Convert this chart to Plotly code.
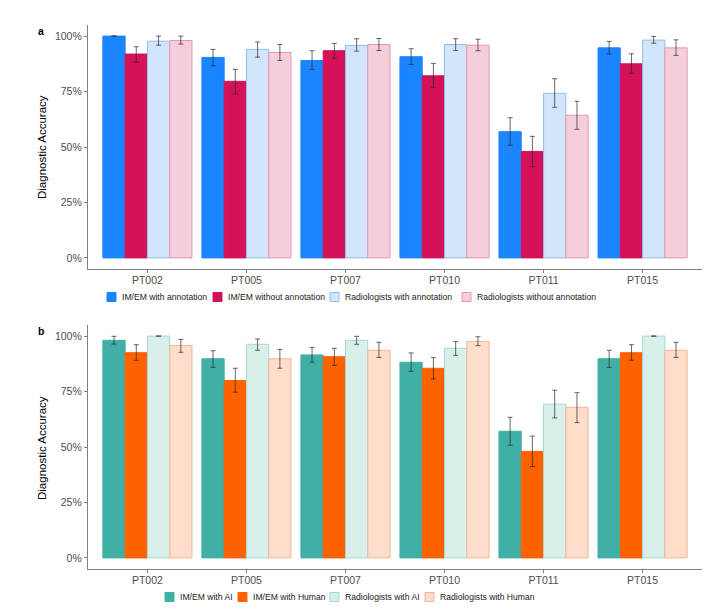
import plotly.graph_objects as go
from plotly.subplots import make_subplots

categories = ["PT002", "PT005", "PT007", "PT010", "PT011", "PT015"]

# Panel a
a_names = ["IM/EM with annotation", "IM/EM without annotation",
           "Radiologists with annotation", "Radiologists without annotation"]
a_values = [
    [1.000, 0.904, 0.890, 0.907, 0.569, 0.947],
    [0.919, 0.796, 0.934, 0.821, 0.480, 0.875],
    [0.977, 0.940, 0.958, 0.962, 0.742, 0.982],
    [0.980, 0.926, 0.962, 0.959, 0.643, 0.947],
]
a_upper = [
    [1.000, 0.940, 0.934, 0.943, 0.632, 0.976],
    [0.952, 0.850, 0.967, 0.877, 0.548, 0.920],
    [1.000, 0.973, 0.988, 0.988, 0.808, 0.998],
    [1.000, 0.962, 0.989, 0.986, 0.706, 0.983],
]
a_lower = [
    [1.000, 0.866, 0.850, 0.872, 0.508, 0.919],
    [0.882, 0.739, 0.900, 0.769, 0.411, 0.832],
    [0.959, 0.905, 0.932, 0.935, 0.679, 0.968],
    [0.964, 0.890, 0.935, 0.934, 0.580, 0.913],
]
a_fill = ["#1A85FF", "#D41159", "#D1E5FB", "#F5CEDC"]
a_line = ["#1A85FF", "#D41159", "#93BDEC", "#E795B4"]

# Panel b
b_names = ["IM/EM with AI", "IM/EM with Human", "Radiologists with AI", "Radiologists with Human"]
b_values = [
    [0.981, 0.898, 0.915, 0.882, 0.571, 0.898],
    [0.925, 0.800, 0.907, 0.855, 0.480, 0.925],
    [1.000, 0.963, 0.981, 0.945, 0.693, 1.000],
    [0.958, 0.898, 0.936, 0.976, 0.679, 0.936],
]
b_upper = [
    [0.999, 0.934, 0.949, 0.924, 0.634, 0.936],
    [0.961, 0.855, 0.945, 0.903, 0.549, 0.961],
    [1.000, 0.987, 0.999, 0.975, 0.756, 1.000],
    [0.985, 0.940, 0.972, 0.997, 0.745, 0.972],
]
b_lower = [
    [0.964, 0.859, 0.882, 0.841, 0.508, 0.859],
    [0.891, 0.747, 0.868, 0.807, 0.412, 0.891],
    [1.000, 0.936, 0.963, 0.913, 0.631, 1.000],
    [0.927, 0.855, 0.904, 0.957, 0.610, 0.904],
]
b_fill = ["#40B0A6", "#FE6100", "#D9EFEC", "#FEDDCB"]
b_line = ["#40B0A6", "#FE6100", "#A3D9D0", "#F4B596"]

y_ticks = [0, 0.25, 0.5, 0.75, 1.0]
y_ticklabels = ["0%", "25%", "50%", "75%", "100%"]

W, H = 718, 612
ML, MR = 88, 16
PW = W - ML - MR

def px_x(px):
    return (px - ML) / PW

def px_y(px):
    return 1 - px / H

fig = make_subplots(rows=2, cols=1)

def add_panel(names, values, upper, lower, fills, lines, row):
    for i, n in enumerate(names):
        fig.add_trace(go.Bar(
            x=categories, y=values[i], name=n, showlegend=False,
            marker=dict(color=fills[i], line=dict(color=lines[i], width=1)),
            error_y=dict(type="data", symmetric=False,
                         array=[u - v for u, v in zip(upper[i], values[i])],
                         arrayminus=[v - l for v, l in zip(values[i], lower[i])],
                         color="rgba(40,40,40,0.7)", thickness=1, width=2.5),
        ), row=row, col=1)

add_panel(a_names, a_values, a_upper, a_lower, a_fill, a_line, 1)
add_panel(b_names, b_values, b_upper, b_lower, b_fill, b_line, 2)

axis_common = dict(showline=True, linecolor="#808080", linewidth=1.2,
                   ticks="outside", ticklen=3, tickcolor="#808080",
                   tickfont=dict(size=10.5, color="#4D4D4D"), showgrid=False,
                   zeroline=False, automargin=False)

annotations = []
shapes = []

# panel labels and y titles
for lab, ylab, ymid in [("a", 31, 147), ("b", 331, 448)]:
    annotations.append(dict(text="<b>%s</b>" % lab, x=px_x(41), y=px_y(ylab), xref="paper",
                            yref="paper", xanchor="center", yanchor="middle", showarrow=False,
                            font=dict(size=10.5, color="black")))
    annotations.append(dict(text="Diagnostic Accuracy", x=px_x(42), y=px_y(ymid), xref="paper",
                            yref="paper", xanchor="center", yanchor="middle", showarrow=False,
                            textangle=-90, font=dict(size=11.5, color="black")))

# legends (drawn as swatches + text)
def add_legend(names, fills, lines, swatch_x, yc):
    for n, f, l, sx in zip(names, fills, lines, swatch_x):
        shapes.append(dict(type="rect", xref="paper", yref="paper",
                           x0=px_x(sx), x1=px_x(sx + 9), y0=px_y(yc + 4.5), y1=px_y(yc - 4.5),
                           fillcolor=f, line=dict(color=l, width=1)))
        annotations.append(dict(text=n, x=px_x(sx + 13), y=px_y(yc), xref="paper", yref="paper",
                                xanchor="left", yanchor="middle", showarrow=False,
                                font=dict(size=8.6, color="#1a1a1a")))

add_legend(a_names, a_fill, a_line, [107, 213, 330, 462], 297)
add_legend(b_names, b_fill, b_line, [165, 238, 330, 425], 597)

fig.update_layout(
    width=W, height=H,
    margin=dict(l=ML, r=MR, t=0, b=0),
    paper_bgcolor="white", plot_bgcolor="white",
    font=dict(family="Liberation Sans, Arial, sans-serif"),
    barmode="group", bargap=0.1, bargroupgap=0,
    showlegend=False,
    xaxis=dict(domain=[0, 1], range=[-0.6, 5.6], ticklabelstandoff=-2, **axis_common),
    xaxis2=dict(domain=[0, 1], range=[-0.6, 5.6], ticklabelstandoff=-2, **axis_common),
    yaxis=dict(domain=[px_y(269), px_y(25)], range=[-0.05, 1.05],
               tickvals=y_ticks, ticktext=y_ticklabels, **axis_common),
    yaxis2=dict(domain=[px_y(569), px_y(325)], range=[-0.05, 1.05],
                tickvals=y_ticks, ticktext=y_ticklabels, **axis_common),
    annotations=annotations,
    shapes=shapes,
)

fig.write_html("out.html", config={"displayModeBar": False},
               post_script="document.body.style.margin='0';document.body.style.overflow='hidden';")
